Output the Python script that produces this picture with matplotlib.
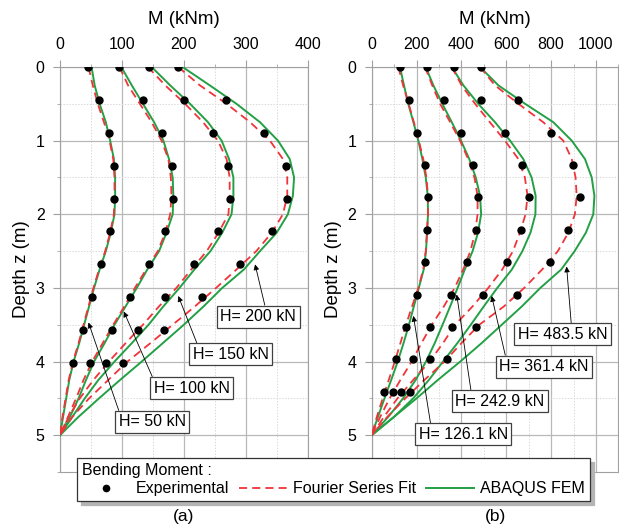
import numpy as np
import matplotlib
matplotlib.use('Agg')
import matplotlib.pyplot as plt
from matplotlib.lines import Line2D
from matplotlib.ticker import MultipleLocator

plt.rcParams['font.family'] = ['Liberation Sans', 'DejaVu Sans']
plt.rcParams['font.size'] = 11

##depths (m)
z_exp_a = [0, 0.45, 0.89, 1.34, 1.79, 2.23, 2.68, 3.13, 3.57, 4.02]
z_exp_b = [0, 0.45, 0.89, 1.33, 1.77, 2.21, 2.65, 3.09, 3.53, 3.97, 4.41]
z_fit = [0.0, 0.25, 0.5, 0.75, 1.0, 1.25, 1.5, 1.75, 2.0, 2.25, 2.5, 2.75, 3.0, 3.25, 3.5, 3.75, 4.0, 4.25, 4.5, 4.75, 5.0]

##(a) H = 50, 100, 150, 200 kN
loads_a = ['H= 50 kN', 'H= 100 kN', 'H= 150 kN', 'H= 200 kN']
exp_50 = [46, 63, 79, 88, 88, 80, 67, 51, 37, 21]
exp_100 = [95, 134, 165, 181, 182, 169, 144, 113, 84, 49]
exp_150 = [143, 200, 247, 272, 274, 255, 216, 170, 126, 75]
exp_200 = [191, 268, 330, 365, 367, 342, 291, 229, 168, 101]
fit_50 = [46, 53, 61, 71, 80, 86, 88, 88, 87, 81, 73, 63, 54, 46, 38, 30, 21, 14, 9, 4, 0]
fit_100 = [96, 110, 129, 148, 164, 175, 179, 180, 178, 170, 158, 139, 121, 104, 86, 69, 52, 38, 26, 13, 0]
fit_150 = [142, 170, 202, 231, 255, 269, 274, 274, 272, 256, 237, 212, 188, 160, 134, 106, 79, 54, 32, 14, 0]
fit_200 = [191, 226, 269, 307, 339, 360, 367, 367, 360, 342, 317, 285, 252, 218, 182, 146, 109, 78, 47, 20, 0]
fem_50 = [51, 56, 64, 74, 81, 87, 89, 89, 88, 82, 74, 64, 55, 47, 39, 31, 22, 15, 10, 5, 0]
fem_100 = [99, 116, 134, 152, 167, 176, 182, 183, 182, 172, 160, 141, 124, 106, 88, 72, 55, 42, 30, 16, 0]
fem_150 = [148, 178, 210, 239, 261, 273, 280, 280, 277, 262, 243, 217, 193, 167, 143, 116, 88, 62, 40, 20, 0]
fem_200 = [198, 242, 285, 323, 352, 371, 378, 376, 368, 350, 323, 297, 262, 232, 200, 166, 132, 97, 63, 30, 0]

##(b) H = 126.1, 242.9, 361.4, 483.5 kN
loads_b = ['H= 126.1 kN', 'H= 242.9 kN', 'H= 361.4 kN', 'H= 483.5 kN']
exp_126 = [125, 165, 204, 237, 252, 247, 236, 203, 153, 108, 56]
exp_243 = [245, 324, 399, 453, 475, 465, 424, 354, 260, 183, 94]
exp_361 = [366, 488, 595, 670, 700, 667, 604, 495, 360, 260, 130]
exp_484 = [488, 654, 798, 897, 929, 874, 793, 646, 465, 337, 170]
fit_126 = [119, 140, 165, 188, 210, 230, 244, 251, 251, 246, 241, 230, 208, 180, 153, 128, 103, 76, 49, 23, 0]
fit_243 = [238, 270, 305, 350, 394, 430, 458, 472, 472, 461, 440, 408, 370, 322, 268, 222, 178, 128, 80, 38, 0]
fit_361 = [357, 401, 461, 527, 594, 654, 683, 695, 686, 661, 630, 582, 520, 450, 372, 318, 258, 185, 115, 55, 0]
fit_484 = [483, 550, 654, 765, 854, 892, 909, 914, 906, 877, 830, 760, 680, 590, 480, 400, 325, 235, 150, 70, 0]
fem_126 = [126, 144, 163, 186, 208, 226, 241, 250, 251, 247, 242, 232, 210, 188, 166, 142, 116, 87, 57, 28, 0]
fem_243 = [241, 275, 315, 357, 398, 435, 464, 483, 488, 474, 450, 415, 383, 350, 316, 281, 242, 196, 140, 74, 0]
fem_361 = [357, 409, 475, 550, 617, 676, 713, 731, 730, 708, 672, 625, 560, 500, 442, 382, 318, 255, 185, 100, 0]
fem_484 = [483, 565, 684, 810, 892, 951, 981, 993, 988, 955, 905, 845, 752, 670, 580, 490, 395, 295, 200, 100, 0]

RED = '#f0343a'
GREEN = '#23a045'
GRID = '#b8b8b8'

W, H = 619, 531
fig = plt.figure(figsize=(W / 100, H / 100), dpi=100)
ax_a = fig.add_axes([60 / W, 1 - 472 / H, 247.7 / W, 405 / H])
ax_b = fig.add_axes([371.7 / W, 1 - 472 / H, 246.7 / W, 405 / H])

panels = [
    (ax_a, z_exp_a, [exp_50, exp_100, exp_150, exp_200], [fit_50, fit_100, fit_150, fit_200],
     [fem_50, fem_100, fem_150, fem_200], 400, 100),
    (ax_b, z_exp_b, [exp_126, exp_243, exp_361, exp_484], [fit_126, fit_243, fit_361, fit_484],
     [fem_126, fem_243, fem_361, fem_484], 1100, 200),
]

for ax, z_exp, exps, fits, fems, xmax, step in panels:
    for m_exp, m_fit, m_fem in zip(exps, fits, fems):
        ax.plot(m_fem, z_fit, color=GREEN, lw=1.4, zorder=3)
        ax.plot(m_fit, z_fit, color=RED, lw=1.3, ls=(0, (4.5, 2.8)), zorder=4)
        ax.plot(m_exp, z_exp, ls='none', marker='o', ms=5, color='k', zorder=5)
    ax.set_xlim(0, xmax)
    ax.set_ylim(5.5, 0)
    ax.xaxis.set_major_locator(MultipleLocator(step))
    ax.xaxis.set_minor_locator(MultipleLocator(step / 2))
    ax.yaxis.set_major_locator(MultipleLocator(1))
    ax.yaxis.set_minor_locator(MultipleLocator(0.5))
    ax.grid(which='major', color=GRID, lw=0.9)
    ax.grid(which='minor', color='#dadada', lw=0.7, ls=(0, (1.5, 1.5)))
    ax.set_axisbelow(True)
    ax.xaxis.tick_top()
    ax.xaxis.set_label_position('top')
    ax.tick_params(which='major', direction='out', length=5, width=0.8, color='#a0a0a0',
                   labelsize=11.5, pad=6)
    ax.tick_params(which='minor', direction='out', length=2.5, width=0.6, color='#a0a0a0')
    for sp in ax.spines.values():
        sp.set_color('#a0a0a0')
        sp.set_linewidth(0.8)
    ax.set_xlabel('M (kNm)', fontsize=13.5, labelpad=9)
    ax.set_ylabel('Depth z (m)', fontsize=13.5, labelpad=4)

# load labels: (text, arrow tip, box centre, arrow start on box)
labels_a = [
    (loads_a[0], (46, 3.47), (149, 4.82), (0.02, 1.0)),
    (loads_a[1], (103, 3.32), (213, 4.36), (0.0, 1.0)),
    (loads_a[2], (191, 3.11), (276, 3.90), (0.07, 1.0)),
    (loads_a[3], (315, 2.68), (320, 3.39), (0.6, 1.0)),
]
labels_b = [
    (loads_b[0], (186, 3.38), (408, 4.99), (0.14, 1.0)),
    (loads_b[1], (379, 3.09), (572, 4.54), (0.18, 1.0)),
    (loads_b[2], (535, 3.11), (767, 4.07), (0.08, 1.0)),
    (loads_b[3], (869, 2.71), (851, 3.63), (0.6, 1.0)),
]
for ax, labels in [(ax_a, labels_a), (ax_b, labels_b)]:
    for txt, tip, centre, rel in labels:
        ax.annotate(txt, xy=tip, xytext=centre, ha='center', va='center', fontsize=11.5, zorder=6,
                    bbox=dict(boxstyle='square,pad=0.22', fc='white', ec='#404040', lw=0.9),
                    arrowprops=dict(arrowstyle='-|>', color='k', lw=0.6, mutation_scale=8,
                                    shrinkA=0, shrinkB=0, relpos=rel))

fig.text(184 / W, 1 - 516 / H, '(a)', ha='center', va='center', fontsize=12.5)
fig.text(495 / W, 1 - 516 / H, '(b)', ha='center', va='center', fontsize=12.5)

handles = [Line2D([], [], ls='none', marker='o', ms=4.5, color='k'),
           Line2D([], [], color=RED, lw=1.3, ls=(0, (4.5, 2.8))),
           Line2D([], [], color=GREEN, lw=1.4)]
lgd = fig.legend(handles, ['Experimental', 'Fourier Series Fit', 'ABAQUS FEM'],
                 title='Bending Moment :', title_fontsize=11.5, fontsize=11.5, ncol=3,
                 loc='lower left', bbox_to_anchor=(77 / W, 1 - 501 / H), borderaxespad=0,
                 alignment='left', fancybox=False, framealpha=1, edgecolor='#333333',
                 shadow={'ox': 3, 'oy': -3, 'color': '#b4b4b4', 'alpha': 1},
                 handlelength=3, handletextpad=0.4,
                 columnspacing=0.6, borderpad=0.3, labelspacing=0.2)
lgd.get_frame().set_linewidth(0.9)
lgd.set_zorder(10)

fig.savefig('out.png', dpi=100)
